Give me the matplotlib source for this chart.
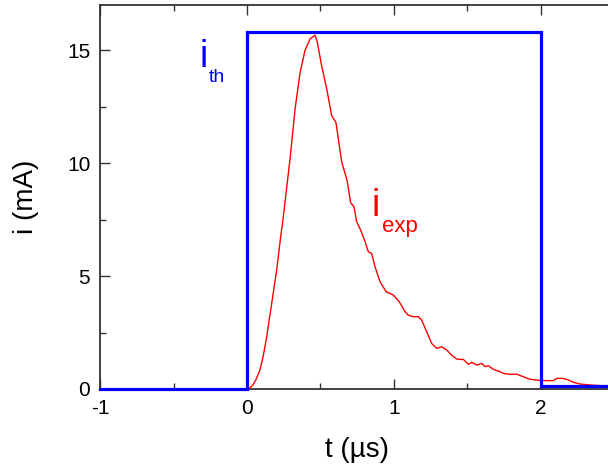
import matplotlib
matplotlib.use("Agg")
import matplotlib.pyplot as plt
from matplotlib.ticker import MultipleLocator

plt.rcParams['font.family'] = ['Liberation Sans', 'DejaVu Sans']
plt.rcParams['axes.unicode_minus'] = False

# Theoretical pulse i_th
t_th = [-1.0, 0.0, 0.0, 2.0, 2.0, 2.5]
i_th = [0.0, 0.0, 15.8, 15.8, 0.12, 0.12]

# Experimental current i_exp
t_exp = [0.0, 0.02, 0.04, 0.06, 0.088, 0.11, 0.134, 0.168, 0.202, 0.229, 0.243, 0.293, 0.327, 0.361,
         0.395, 0.429, 0.463, 0.478, 0.508, 0.542, 0.576, 0.605, 0.644, 0.682,
         0.705, 0.728, 0.746, 0.773, 0.803, 0.825, 0.848, 0.871, 0.905, 0.946,
         0.995, 1.036, 1.075, 1.097, 1.131, 1.165, 1.188, 1.222, 1.256, 1.29,
         1.324, 1.358, 1.392, 1.426, 1.449, 1.472, 1.506, 1.529, 1.563, 1.597,
         1.619, 1.642, 1.676, 1.721, 1.744, 1.789, 1.834, 1.880, 1.925, 1.993,
         2.039, 2.084, 2.107, 2.152, 2.186, 2.22, 2.265, 2.333, 2.401, 2.5]
i_exp = [0.0, 0.05, 0.18, 0.4, 0.84, 1.45, 2.31, 3.79, 5.27, 6.74, 7.4, 10.2, 12.4, 14.0,
         15.0, 15.5, 15.66, 15.37, 14.3, 13.3, 12.1, 11.8, 10.06, 9.2,
         8.25, 8.07, 7.4, 7.04, 6.52, 6.08, 6.0, 5.41, 4.75, 4.31,
         4.16, 3.86, 3.42, 3.27, 3.2, 3.2, 3.05, 2.54, 2.02, 1.8,
         1.87, 1.73, 1.5, 1.33, 1.31, 1.31, 1.09, 1.18, 1.06, 1.13,
         0.99, 1.03, 0.87, 0.77, 0.69, 0.65, 0.66, 0.54, 0.43, 0.38,
         0.37, 0.37, 0.47, 0.47, 0.40, 0.30, 0.22, 0.18, 0.15, 0.14]

fig = plt.figure(figsize=(6.08, 4.71), dpi=100)
ax = fig.add_axes([100/608, 82/471, 514.5/608, 384/471])

ax.plot(t_exp, i_exp, color='#ff0000', lw=1.0, zorder=3)
ax.plot(t_th, i_th, color='#0000ff', lw=2.3, zorder=4, solid_joinstyle='miter',
        clip_on=False)

ax.set_xlim(-1, 2.5)
ax.set_ylim(0, 17)
ax.xaxis.set_major_locator(MultipleLocator(1))
ax.xaxis.set_minor_locator(MultipleLocator(0.5))
ax.yaxis.set_major_locator(MultipleLocator(5))
ax.yaxis.set_minor_locator(MultipleLocator(2.5))
ax.tick_params(which='both', direction='in', top=True, right=False, labelsize=15,
               color='#333333', width=1.0)
ax.tick_params(which='major', length=7, pad=7)
ax.tick_params(which='minor', length=4)
for s in ['left', 'bottom', 'top']:
    ax.spines[s].set_color('#333333')
    ax.spines[s].set_linewidth(1.3)
ax.spines['right'].set_visible(False)

ax.set_xlabel('t (µs)', fontsize=20, labelpad=14)
ax.set_ylabel('i (mA)', fontsize=20, labelpad=20)

# annotations
fig.text(200/608, 1 - 67/471, 'i', color='#0000ff', fontsize=27, ha='left', va='baseline')
fig.text(209/608, 1 - 82/471, 'th', color='#0000ff', fontsize=14, ha='left', va='baseline')
fig.text(371/608, 1 - 216/471, 'i', color='#ff0000', fontsize=27, ha='left', va='baseline')
fig.text(382/608, 1 - 232/471, 'exp', color='#ff0000', fontsize=16, ha='left', va='baseline')

fig.savefig('out.png', dpi=100)
